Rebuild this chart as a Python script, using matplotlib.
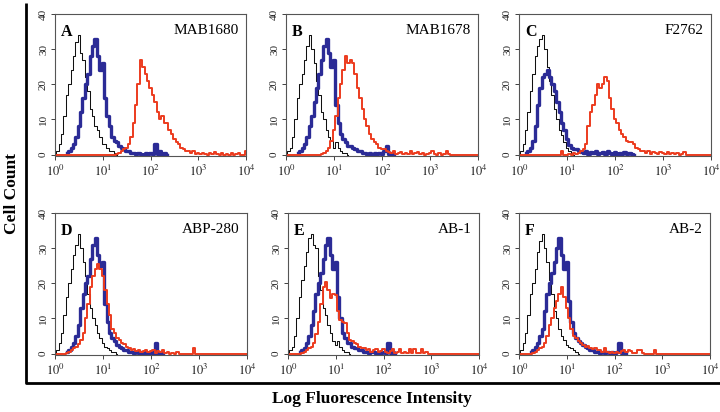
import numpy as np
import matplotlib
matplotlib.use("Agg")
import matplotlib.pyplot as plt
from matplotlib.ticker import LogLocator, NullFormatter, FixedLocator

plt.rcParams['font.family'] = ['Liberation Serif', 'DejaVu Serif']
plt.rcParams['mathtext.fontset'] = 'stix'

# ---------------- data (log10 bin start, counts per 0.05-decade bin) ----------------
BIN = 0.05
panel_letters = ["A", "B", "C", "D", "E", "F"]
panel_names = ["MAB1680", "MAB1678", "F2762", "ABP-280", "AB-1", "AB-2"]
y_ticks = [0, 10, 20, 30, 40]
x_decades = [0, 1, 2, 3, 4]

A_black_start, A_black = 0.0, [0, 1, 3, 6, 11, 17, 20, 24, 28, 32, 34, 29, 27, 22, 18, 13, 11, 8, 7, 5, 3, 3, 2, 1, 1, 0.5, 0]
A_blue_start, A_blue = 0.25, [0.5, 1, 2, 3, 5, 8, 12, 16, 20, 23, 28, 31, 33, 28, 24, 26, 16, 11, 8, 5, 4, 3.5, 2.5, 2, 1.5, 1, 1, 0.5, 0.5, 0.3, 0.5, 0.3, 0, 0.5, 0.3, 0.5, 0.3, 3, 0.3, 1, 0.3, 0.5, 0]
A_red_start, A_red = 1.30, [0.3, 0.5, 1, 1.5, 2, 3, 5, 9, 14, 20, 27, 25, 23, 21, 19, 17, 15, 12, 10, 11, 9, 9, 7, 6, 4.5, 3.5, 3, 2, 1.5, 1, 1, 0.5, 1, 0.3, 0.5, 0.3, 0.5, 0.3, 0, 0.5, 0.3, 0.7, 0.3, 0, 0.5, 0, 0.3, 0, 0.5, 0, 0.3, 0.5, 0, 0, 1]

B_black_start, B_black = 0.0, [0, 1, 2, 5, 10, 16, 20, 23, 27, 31, 34, 30, 26, 21, 17, 12, 10, 7, 5, 4, 2, 3.5, 2, 1, 0.5, 0.5, 0]
B_blue_start, B_blue = 0.25, [0.5, 1, 2, 3, 5, 8, 11, 15, 19, 23, 27, 31, 33, 29, 25, 27, 14, 9, 6, 4.5, 3.5, 2.5, 2.5, 2, 1.5, 1, 1, 0.5, 0.5, 0.3, 0.5, 0, 0.5, 0.3, 0.5, 0.3, 1, 2.5, 0.3, 0.5, 0]
B_red_start, B_red = 0.75, [0.3, 0.5, 1, 2, 4, 7, 11, 16, 20, 24, 28, 26, 27, 26, 23, 19, 16, 13, 10, 8, 6, 4.5, 3.5, 3, 2, 1.5, 1.5, 1, 0.7, 0.5, 1, 0.3, 0.5, 0.7, 0.3, 0.5, 0.3, 1, 0.3, 0.5, 0.7, 0.3, 0.5, 0, 0.3, 0.5, 1, 0.3, 0, 0.5, 0, 0.3, 1, 0.3, 0]

C_black_start, C_black = 0.0, [0, 1, 3, 7, 12, 18, 23, 28, 31, 33, 34, 30, 25, 21, 17, 13, 10, 7, 5.5, 3.5, 2, 1, 0.5, 0]
C_blue_start, C_blue = 0.15, [0.5, 1, 2, 4, 8, 14, 19, 22, 23, 24, 22, 20, 18, 15, 12, 9, 7, 4.5, 2.6, 2, 1.7, 1.5, 1, 0.7, 0.5, 1, 0.3, 0.7, 0.5, 1, 0.3, 0.5, 0.7, 0.3, 1, 0.5, 0.3, 0.7, 0.3, 0.5, 0.3, 0.7, 0.3, 0.5, 0.3, 0]
C_red_start, C_red = 0.85, [0, 1, 0, 0, 0.3, 0, 0.5, 0.3, 0.5, 1, 1.5, 3, 8, 12, 14, 17, 20, 19, 20, 22, 21, 16, 13, 10, 9, 7, 6, 5, 4, 3.5, 3.5, 3, 2, 1.5, 1, 1, 0.5, 1, 0.3, 0.7, 0.5, 0.3, 0.7, 0.5, 0.3, 0.7, 0.3, 0.5, 0.3, 0.5, 0, 0.3, 0.7, 0]

D_black_start, D_black = 0.0, [0, 1, 3, 6, 11, 16, 20, 24, 28, 31, 34, 30, 26, 22, 17, 13, 10, 8, 6, 4.5, 3, 2, 1.5, 1, 0.5, 0.5, 0]
D_blue_start, D_blue = 0.25, [0.5, 1, 2, 3, 5, 8, 13, 17, 20, 22, 27, 31, 33, 28, 25, 26, 14, 9, 6, 4.5, 3.5, 2.5, 2, 1.5, 1, 1, 0.5, 0.5, 0.3, 0.5, 0.3, 0.5, 0, 0.5, 0.3, 0.5, 0.3, 3, 0.3, 0.5, 0]
D_red_start, D_red = 0.25, [0.3, 0.5, 1, 1.5, 2, 2.6, 4, 6, 10, 14, 19, 22, 24, 25.6, 24, 22, 18, 14, 11, 7, 6, 4.5, 4, 3, 2.6, 2, 1.5, 1, 1.2, 0.7, 1, 0.5, 0.7, 1, 0.5, 0.7, 1, 0.3, 0.7, 0.5, 1, 0.3, 0.5, 0, 0.3, 0, 0.5, 0, 0, 0, 0, 0, 0, 1.5, 0]

E_black_start, E_black = 0.0, [0, 1, 2, 5, 10, 16, 21, 25, 29, 33, 34, 31, 30, 22, 18, 13, 11, 8, 6, 3.5, 2.5, 3.5, 2, 1, 0.5, 0.5, 0]
E_blue_start, E_blue = 0.25, [0.5, 1, 1.5, 3, 5, 8, 12, 17, 20, 23, 27, 31, 33, 28, 24, 26, 16, 10, 6, 4.5, 3, 3, 2, 1.5, 1.5, 1, 1, 0.5, 0.5, 0.3, 0.5, 0.5, 0.3, 0.5, 0.3, 0.5, 0.3, 3, 0.3, 0.5, 0]
E_red_start, E_red = 0.30, [0.3, 0.5, 1, 1.5, 2, 3, 5.5, 9, 14, 19, 20.5, 18, 15.8, 17, 16.7, 12, 9.5, 9, 8.7, 6, 4, 3.6, 3, 2.6, 2, 1.5, 1.5, 1, 1.2, 0.5, 1, 1.2, 0.5, 0.7, 1.3, 0.5, 0.3, 0.7, 1.2, 0.3, 0.5, 1.2, 0.3, 0.5, 0.3, 1.2, 0.3, 1.2, 0.3, 0.3, 1.2, 0.3, 0.5, 0]

F_black_start, F_black = 0.0, [0, 1, 3, 6, 11, 17, 20, 24, 29, 32, 34, 30, 26, 21, 17, 12, 10, 7, 5, 4, 2.5, 2, 1.5, 1, 0.5, 0]
F_blue_start, F_blue = 0.25, [0.5, 1, 2, 3, 5, 7, 12, 17, 20, 23, 26, 30, 33, 28, 24, 26, 15, 9, 6, 4.5, 3.5, 3, 2.5, 2, 1.5, 1, 1, 0.5, 0.5, 0.3, 0.5, 0.3, 0.5, 0.3, 0.5, 0.3, 0.5, 3, 0.3, 0.5, 0]
F_red_start, F_red = 0.30, [0.3, 0.5, 1, 1.5, 2, 3, 5, 8, 10, 13, 15, 17, 19, 16, 13, 10, 7, 5, 4.5, 3.6, 3, 2.5, 2, 2.2, 1.5, 1.2, 1.5, 1, 1, 0.5, 1.5, 0.5, 0.3, 0.5, 0.3, 0.5, 0.3, 0.7, 1, 0.5, 1, 0.7, 0.3, 0.3, 1, 1, 0.3, 0, 0, 0, 0, 1, 0]

panels = [
    (A_black_start, A_black, A_blue_start, A_blue, A_red_start, A_red),
    (B_black_start, B_black, B_blue_start, B_blue, B_red_start, B_red),
    (C_black_start, C_black, C_blue_start, C_blue, C_red_start, C_red),
    (D_black_start, D_black, D_blue_start, D_blue, D_red_start, D_red),
    (E_black_start, E_black, E_blue_start, E_blue, E_red_start, E_red),
    (F_black_start, F_black, F_blue_start, F_blue, F_red_start, F_red),
]

# ---------------- layout ----------------
W, H = 720, 412
fig = plt.figure(figsize=(W / 100, H / 100), dpi=100)
boxes = [  # left, top, right, bottom in pixels
    (55, 14, 246, 156), (286, 14, 478, 156), (519, 14, 711, 156),
    (55, 213, 247, 355), (288, 213, 479, 355), (519, 213, 710, 355),
]

BLACK = "#111111"
BLUE = "#2b2b96"
RED = "#ec3b1e"


def series_xy(start, vals, pad=False):
    logs = start + BIN * np.arange(len(vals))
    vals = np.asarray(vals, dtype=float)
    if pad:
        left = np.arange(0.0, start - 1e-9, BIN)
        right = np.arange(logs[-1] + BIN, 4.0 + 1e-9, BIN)
        logs = np.concatenate([left, logs, right])
        vals = np.concatenate([np.zeros(len(left)), vals, np.zeros(len(right))])
    return 10 ** logs, vals


for i, (box, data) in enumerate(zip(boxes, panels)):
    l, t, r, b = box
    ax = fig.add_axes([l / W, 1 - b / H, (r - l) / W, (b - t) / H])
    bs, bk, us, bu, rs, rd = data
    x, y = series_xy(bs, bk)
    ax.plot(x, y, drawstyle="steps-mid", color=BLACK, lw=0.75)
    x, y = series_xy(us, bu)
    ax.plot(x, y, drawstyle="steps-mid", color=BLUE, lw=2.4)
    x, y = series_xy(rs, rd, pad=True)
    ax.plot(x, y, drawstyle="steps-mid", color=RED, lw=1.4)

    ax.set_xscale("log")
    ax.set_xlim(10 ** x_decades[0], 10 ** x_decades[-1])
    ax.set_ylim(-0.4, 40)
    ax.xaxis.set_major_locator(FixedLocator([10 ** d for d in x_decades]))
    ax.xaxis.set_minor_locator(LogLocator(base=10, subs=np.arange(2, 10)))
    ax.xaxis.set_minor_formatter(NullFormatter())
    ax.set_xticklabels([r"$10^{%d}$" % d for d in x_decades], fontsize=9)
    ax.set_yticks(y_ticks)
    ax.set_yticklabels([str(v) for v in y_ticks], fontsize=8, rotation=90, va="center")
    ax.tick_params(axis="x", which="major", direction="out", length=3, width=0.6, pad=3, colors="#222222")
    ax.tick_params(axis="x", which="minor", direction="out", length=2, width=0.5)
    ax.tick_params(axis="y", direction="out", length=3, width=0.6, pad=2, colors="#222222")
    for s in ax.spines.values():
        s.set_linewidth(0.8)
        s.set_color("#555555")
    ax.text(0.03, 0.93, panel_letters[i], transform=ax.transAxes, fontsize=11.5,
            fontweight="bold", va="top", ha="left")
    ax.text(0.96, 0.93, panel_names[i], transform=ax.transAxes, fontsize=11,
            va="top", ha="right")

# outer L-shaped frame
frame = fig.add_axes([0, 0, 1, 1], facecolor="none")
frame.set_xlim(0, W)
frame.set_ylim(H, 0)
frame.axis("off")
frame.plot([26, 26, 720], [3, 383, 383], color="black", lw=2, solid_capstyle="butt")
frame.text(12, 193, "Cell Count", rotation=90, fontsize=12.5, fontweight="bold",
           ha="center", va="center")
frame.text(372, 399, "Log Fluorescence Intensity", fontsize=12.5, fontweight="bold",
           ha="center", va="center")

fig.savefig("out.png", dpi=100)
